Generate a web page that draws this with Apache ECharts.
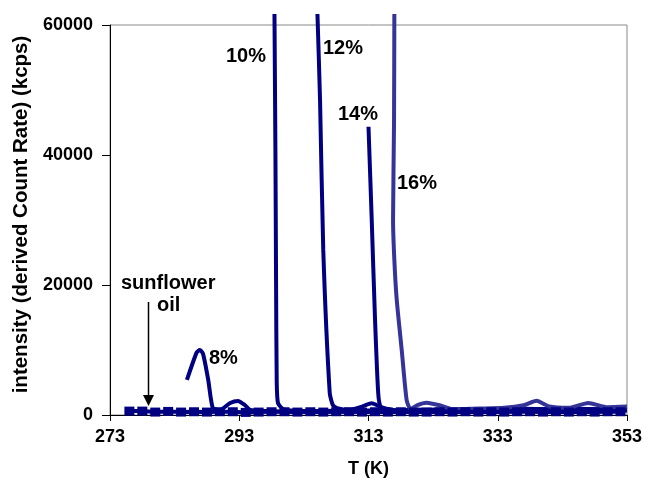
<!DOCTYPE html>
<html>
<head>
<meta charset="utf-8">
<script src="https://cdn.jsdelivr.net/npm/echarts@6/dist/echarts.min.js"></script>
<style>html,body{margin:0;padding:0;background:#fff}#c{width:646px;height:484px}</style>
</head>
<body>
<div id="c"></div>
<script>
// ---- data ----
const X_TICKS = [273, 293, 313, 333, 353];
const Y_TICKS = [0, 20000, 40000, 60000];

const T_OIL = [276,278,280,282,284,286,288,290,292,294,296,298,300,302,304,306,308,310,312,314,316,318,320,322,324,326,328,330,332,334,336,338,340,342,344,346,348,350,352];
const V_OIL = [600,600,450,550,450,500,450,500,500,400,450,500,500,450,500,450,500,500,450,500,450,500,450,450,500,450,500,450,500,450,500,500,450,500,450,500,450,500,500];

const T_8 = [284.9,286.4,286.9,287.4,288.2,288.9,290.0,291.6,292.8,293.9,294.7,297,301,305,309,313,317,321,325,329,333,337,341,345,349,353];
const V_8 = [5400,9600,10000,9400,5400,1100,770,1850,2150,1500,770,600,500,550,500,600,550,600,650,600,700,650,700,650,700,700];

const T_10 = [298.45,298.6,298.7,298.8,299.0,299.8,301,304,308,312,316,320,324,328,332,336,340,344,348,353];
const V_10 = [61700,40000,20000,5000,1800,900,700,600,650,700,650,700,750,700,750,800,750,800,750,800];

const T_12 = [305.1,305.5,306.0,307.0,307.5,308.3,310,312,313.5,315,317,320,324,328,332,336,340,344,348,353];
const V_12 = [61700,48500,25400,3400,1500,1000,800,1300,1800,1200,700,800,750,800,850,800,850,800,850,850];

const T_14 = [313.0,313.5,314.0,314.5,314.9,316,318,321,325,329,333,337,341,345,349,353];
const V_14 = [44350,30000,15000,3400,1200,900,700,800,900,850,900,950,900,950,900,950];

const T_16 = [317.0,316.95,316.8,317.0,317.37,318.14,318.9,319.5,320.5,322,324,326,330,334,337,339,341,344,347,350,353];
const V_16 = [61700,45000,30000,23850,17700,10000,2300,900,1500,1900,1500,900,1000,1100,1500,2200,1300,1100,1850,1200,1300];

const LABELS = ['sunflower', 'oil', '8%', '10%', '12%', '14%', '16%'];

function pts(t, v) { return t.map((x, i) => [x, v[i]]); }

const chart = echarts.init(document.getElementById('c'));
const FONT = 'Liberation Sans, Arial, Helvetica, sans-serif';
const NAVY = '#000080';
const LIGHT = '#343499';

function lineSeries(name, t, v, color) {
  return {
    name: name, type: 'line', data: pts(t, v), smooth: 0.2, symbol: 'none',
    clip: false, lineStyle: { color: color, width: 4 }, itemStyle: { color: color },
    z: 3
  };
}

function label(text, x, y) {
  return { type: 'text', x: x, y: y,
    style: { text: text, font: 'bold 20px ' + FONT, fill: '#000', textAlign: 'left', textVerticalAlign: 'middle' } };
}

chart.setOption({
  animation: false,
  grid: { left: 110, right: 19, top: 25, bottom: 69, show: true, borderColor: '#888', borderWidth: 1 },
  xAxis: {
    type: 'value', min: 273, max: 353, interval: 20,
    name: 'T (K)', nameLocation: 'middle', nameGap: 45,
    nameTextStyle: { fontFamily: FONT, fontWeight: 'bold', fontSize: 18, color: '#000' },
    axisLine: { lineStyle: { color: '#000', width: 1 } },
    axisTick: { show: true, length: 6, lineStyle: { color: '#000' } },
    axisLabel: { fontFamily: FONT, fontWeight: 'bold', fontSize: 18, color: '#000', margin: 13,
      formatter: v => X_TICKS.includes(v) ? String(v) : '' },
    splitLine: { show: false }
  },
  yAxis: {
    type: 'value', min: 0, max: 60000, interval: 20000,
    name: 'intensity (derived Count Rate) (kcps)', nameLocation: 'middle', nameGap: 75,
    nameTextStyle: { fontFamily: FONT, fontWeight: 'bold', fontSize: 20.5, color: '#000', padding: [0, 0, 0, 11] },
    axisLine: { show: true, lineStyle: { color: '#000', width: 1 } },
    axisTick: { show: true, length: 8, lineStyle: { color: '#000' } },
    axisLabel: { fontFamily: FONT, fontWeight: 'bold', fontSize: 18, color: '#000', margin: 17,
      formatter: v => Y_TICKS.includes(v) ? String(v) : '' },
    splitLine: { show: false }
  },
  series: [
    lineSeries(LABELS[2], T_8, V_8, NAVY),
    lineSeries(LABELS[3], T_10, V_10, NAVY),
    lineSeries(LABELS[4], T_12, V_12, NAVY),
    lineSeries(LABELS[5], T_14, V_14, NAVY),
    lineSeries(LABELS[6], T_16, V_16, LIGHT),
    {
      name: 'sunflower oil', type: 'line', data: pts(T_OIL, V_OIL), symbol: 'rect', symbolSize: [10, 9],
      clip: false, lineStyle: { color: NAVY, width: 4 }, itemStyle: { color: NAVY }, z: 4
    }
  ],
  graphic: [
    label(LABELS[3], 226, 56),
    label(LABELS[4], 323, 48),
    label(LABELS[5], 338, 114),
    label(LABELS[6], 397, 183),
    label(LABELS[2], 209, 358),
    label(LABELS[0], 121, 283),
    label(LABELS[1], 157, 305),
    { type: 'line', shape: { x1: 148.5, y1: 302, x2: 148.5, y2: 396 }, style: { stroke: '#000', lineWidth: 1.5 } },
    { type: 'polygon', shape: { points: [[143, 395], [154, 395], [148.5, 406]] }, style: { fill: '#000' } }
  ]
});
</script>
</body>
</html>
